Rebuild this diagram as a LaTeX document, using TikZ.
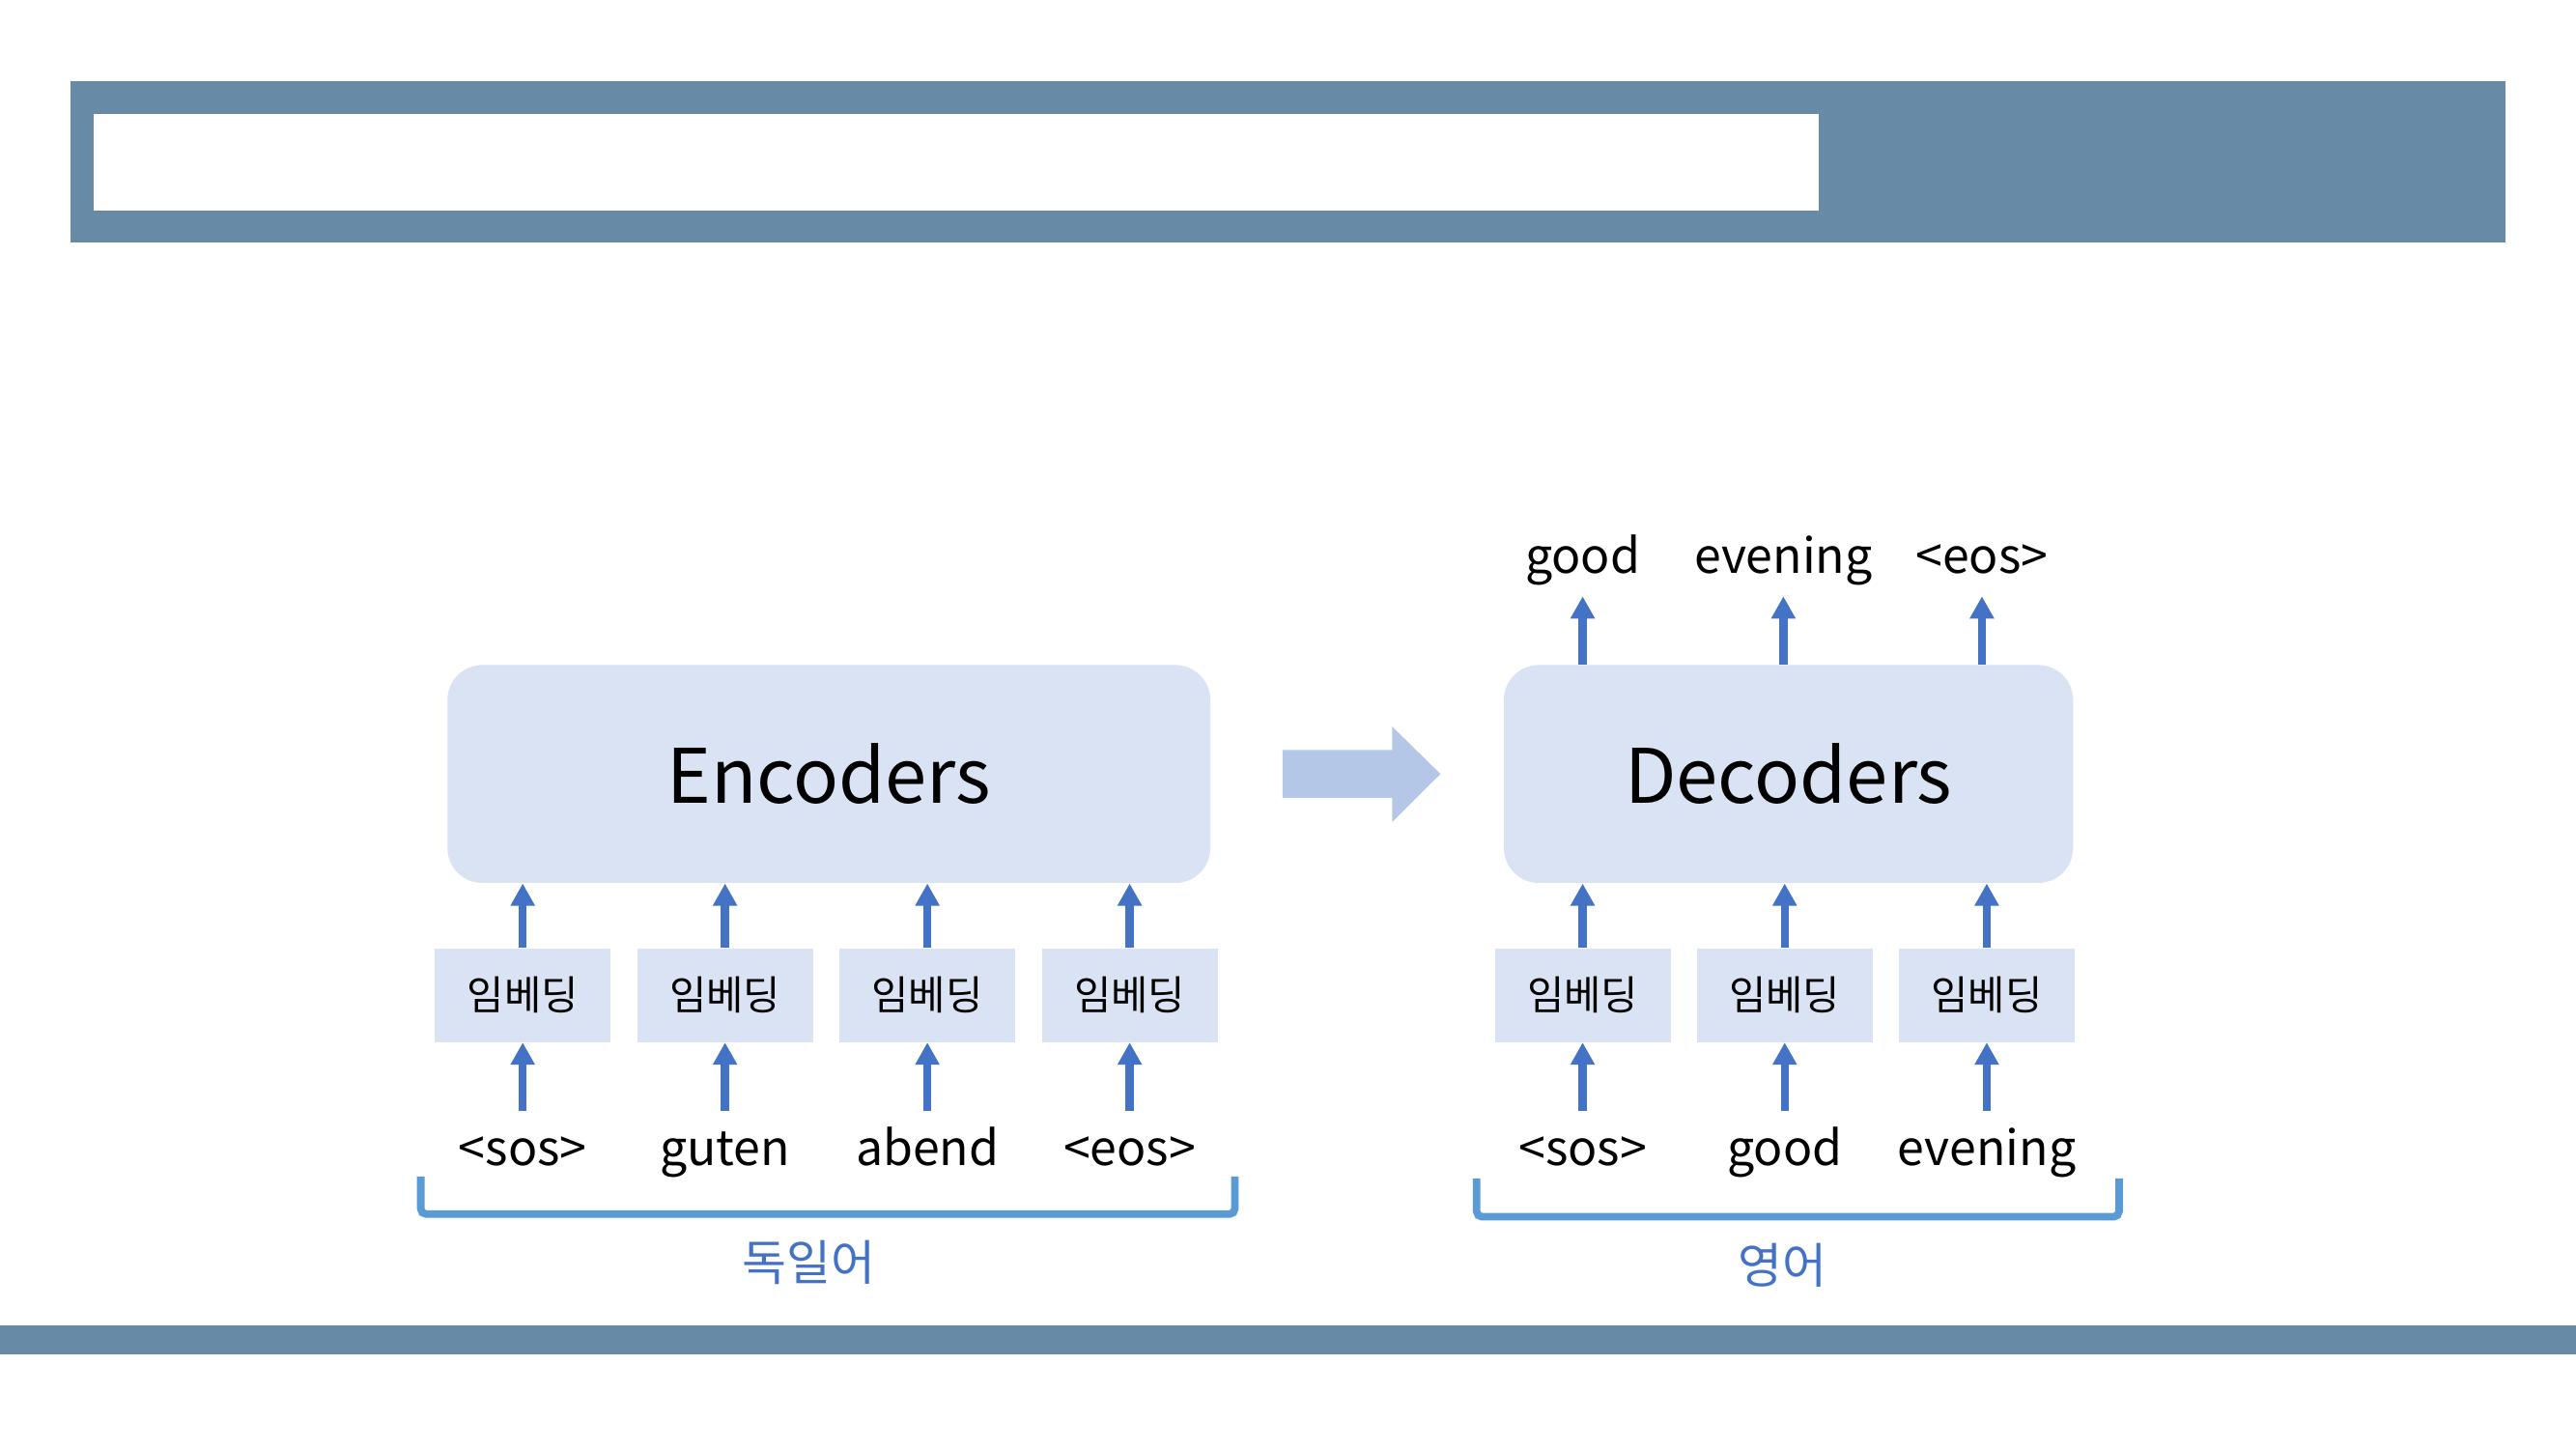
\documentclass[tikz,border=0pt]{standalone}
\usepackage{fontspec}
\setmainfont{Noto Sans CJK KR}
\usetikzlibrary{positioning,arrows.meta}
\definecolor{bar}{HTML}{678BA6}
\definecolor{pale}{HTML}{DAE3F3}
\definecolor{link}{HTML}{4472C4}
\definecolor{bigarrow}{HTML}{B4C7E7}
\definecolor{bracecol}{HTML}{5B9BD5}
\tikzstyle{block} = [fill=pale,rounded corners=13pt,minimum height=81.2pt,font=\fontsize{28}{34}\selectfont]
\tikzstyle{embed} = [fill=pale,inner sep=0,minimum width=65.5pt,minimum height=34.9pt,font=\fontsize{15}{18}\selectfont]
\tikzstyle{word} = [inner xsep=0,inner ysep=5.3pt,text height=15pt,text depth=5pt,font=\fontsize{18}{22}\selectfont]
\tikzstyle{feed} = [draw=link,line width=3pt,-{Triangle[width=8.6pt,length=8.3pt]}]
\tikzstyle{bracket} = [draw=bracecol,line width=2.8pt,rounded corners=2pt]
\tikzstyle{lang} = [text=link,font=\fontsize{18}{21}\selectfont]
\def \gap {9.5pt}

\begin{document}
\begin{tikzpicture}[x=1pt,y=1pt,node distance=\gap]
      \useasboundingbox (0,0) rectangle (960,540);
      \fill[white] (0,0) rectangle (960,540);
      % title bar and footer
      \fill[bar] (26.3,449.6) rectangle (933.7,509.6);
      \fill[white] (34.9,461.4) rectangle (677.8,497.5);
      \fill[bar] (0,35.2) rectangle (960,46.3);
      % blocks
      \node[block,minimum width=284.3pt] (enc) at (308.9,251.6) {Encoders};
      \node[block,minimum width=212.1pt] (dec) at (666.5,251.6) {Decoders};
      \fill[bigarrow] (478,242.7) -- (518.8,242.7) -- (518.8,233.7) -- (536.8,251.6)
            -- (518.8,269.3) -- (518.8,260.5) -- (478,260.5) -- cycle;
      % encoder side
      \node[embed] (e1) at (194.8,169.2) {임베딩};
      \node[embed,right=of e1] (e2) {임베딩};
      \node[embed,right=of e2] (e3) {임베딩};
      \node[embed,right=of e3] (e4) {임베딩};
      \node[word,below=25.5pt of e1] (s1) {<sos>};
      \node[word,below=25.5pt of e2] (s2) {guten};
      \node[word,below=25.5pt of e3] (s3) {abend};
      \node[word,below=25.5pt of e4] (s4) {<eos>};
      \draw[feed] (s1) -- (e1);
      \draw[feed] (s2) -- (e2);
      \draw[feed] (s3) -- (e3);
      \draw[feed] (s4) -- (e4);
      \draw[feed] (e1) -- (e1 |- enc.south);
      \draw[feed] (e2) -- (e2 |- enc.south);
      \draw[feed] (e3) -- (e3 |- enc.south);
      \draw[feed] (e4) -- (e4 |- enc.south);
      % decoder side
      \node[embed] (d1) at (589.8,169.2) {임베딩};
      \node[embed,right=9.4pt of d1] (d2) {임베딩};
      \node[embed,right=9.4pt of d2] (d3) {임베딩};
      \node[word,below=25.5pt of d1] (t1) {<sos>};
      \node[word,below=25.5pt of d2] (t2) {good};
      \node[word,below=25.5pt of d3] (t3) {evening};
      \draw[feed] (t1) -- (d1);
      \draw[feed] (t2) -- (d2);
      \draw[feed] (t3) -- (d3);
      \draw[feed] (d1) -- (d1 |- dec.south);
      \draw[feed] (d2) -- (d2 |- dec.south);
      \draw[feed] (d3) -- (d3 |- dec.south);
      \node[word,inner ysep=3.5pt,anchor=base] (o1) at (589.8,326.5) {good};
      \node[word,inner ysep=3.5pt,anchor=base] (o2) at (664.6,326.5) {evening};
      \node[word,inner ysep=3.5pt,anchor=base] (o3) at (738.6,326.5) {<eos>};
      \draw[feed] (o1 |- dec.north) -- (o1);
      \draw[feed] (o2 |- dec.north) -- (o2);
      \draw[feed] (o3 |- dec.north) -- (o3);
      % language brackets
      \draw[bracket] (156.8,101.6) -- (156.8,87.6) -- (460.2,87.6) -- (460.2,101.6);
      \node[lang] (de) at (301.5,69.5) {독일어};
      \draw[bracket] (550.3,100.9) -- (550.3,86.6) -- (789.7,86.6) -- (789.7,100.9);
      \node[lang] (en) at (664.4,68.6) {영어};
    \end{tikzpicture}
\end{document}
